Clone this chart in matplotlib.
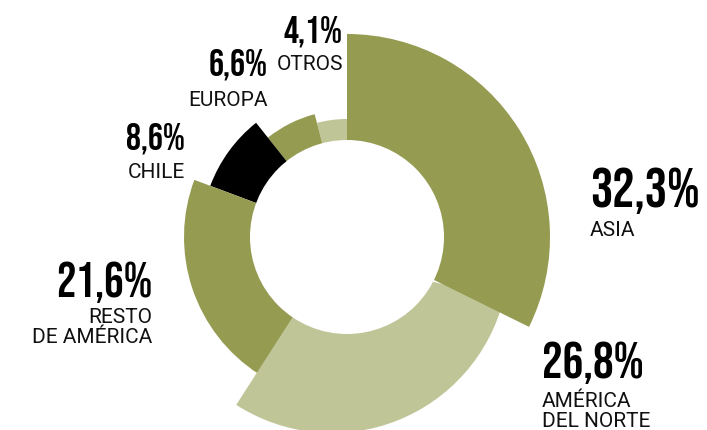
import matplotlib
matplotlib.use("Agg")
import matplotlib.pyplot as plt
from matplotlib.patches import Wedge, Circle
import numpy as np

# datos
regiones = ["ASIA", "AMÉRICA\nDEL NORTE", "RESTO\nDE AMÉRICA", "CHILE", "EUROPA", "OTROS"]
porcentajes = [32.3, 26.8, 21.6, 8.6, 6.6, 4.1]

# estilo de cada porción (radio exterior en px, desplazamiento del centro, color)
radios = [203, 177, 163, 146, 127, 118]
desplaz = [(0, 0), (-15, -19), (0, 0), (0, 0), (0, 0), (0, 0)]
solape = [0, 12, 0, 0, 0, 0]
oliva, claro = "#969b52", "#c0c598"
colores = [oliva, claro, oliva, "#000000", oliva, claro]
capas = [6, 5, 4, 3, 2, 1]

centro = (347, 193)
radio_int = 97

# posición de las etiquetas (x, línea base del número, alineación, tamaño)
etiq_x = [590, 542, 152, 185, 268, 343]
etiq_y = [224, 53, 134, 281, 356, 389]
etiq_ha = ["left", "left", "right", "right", "right", "right"]
etiq_size = [40, 37, 35, 27, 27, 27]
sep_num = [29, 29, 26, 28, 31, 28]

W, H = 707, 431
fig = plt.figure(figsize=(W / 100, H / 100), dpi=100)
ax = fig.add_axes([0, 0, 1, 1])
ax.set_xlim(0, W)
ax.set_ylim(0, H)
ax.axis("off")

fin = 90 - 360 * np.cumsum(porcentajes) / 100
ini = fin + 360 * np.array(porcentajes) / 100

for i in range(len(porcentajes)):
    c = (centro[0] + desplaz[i][0], centro[1] + desplaz[i][1])
    ax.add_patch(Wedge(c, radios[i], fin[i], ini[i] + solape[i],
                       facecolor=colores[i], edgecolor="none", zorder=capas[i]))

ax.add_patch(Circle(centro, radio_int, facecolor="white", edgecolor="none", zorder=10))

num_font = ["Bebas Neue", "Liberation Sans Narrow", "DejaVu Sans"]
lab_font = ["Roboto", "DejaVu Sans"]

for i, p in enumerate(porcentajes):
    txt = f"{p:.1f}%".replace(".", ",")
    ax.text(etiq_x[i], etiq_y[i], txt, ha=etiq_ha[i], va="baseline",
            fontsize=etiq_size[i], family=num_font, color="#000000", zorder=20)
    for j, linea in enumerate(regiones[i].split("\n")):
        ax.text(etiq_x[i], etiq_y[i] - sep_num[i] - 20 * j, linea,
                ha=etiq_ha[i], va="baseline", fontsize=15,
                family=lab_font, color="#111111", zorder=20)

fig.savefig("out.png", dpi=100)
